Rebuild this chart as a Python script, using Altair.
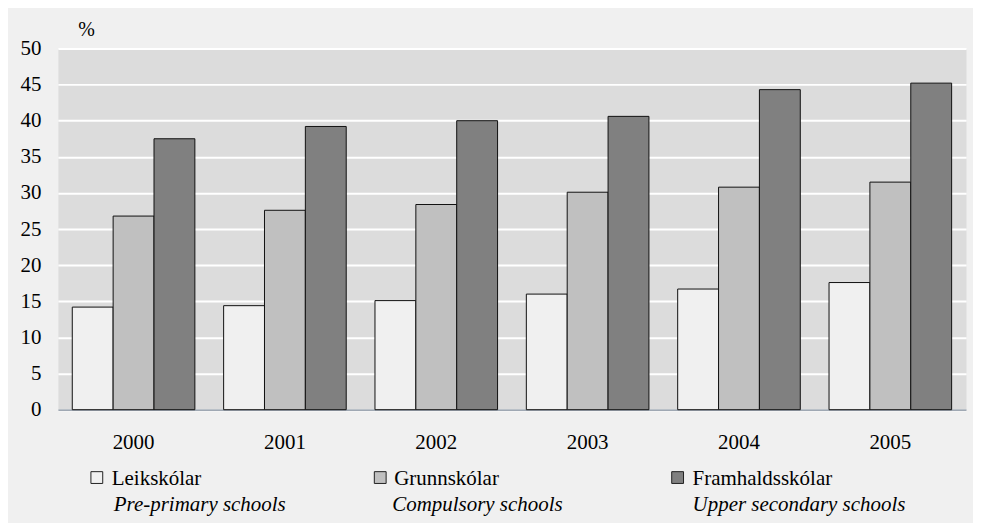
import altair as alt
import pandas as pd

years = ["2000", "2001", "2002", "2003", "2004", "2005"]
series = ["Leikskólar", "Grunnskólar", "Framhaldsskólar"]
series_en = ["Pre-primary schools", "Compulsory schools", "Upper secondary schools"]
leik = [14.2, 14.4, 15.1, 16.0, 16.7, 17.6]
grunn = [26.8, 27.6, 28.4, 30.1, 30.8, 31.5]
fram = [37.5, 39.2, 40.0, 40.6, 44.3, 45.2]
colors = ["#f0f0f0", "#c0c0c0", "#808080"]
y_ticks = list(range(0, 51, 5))

rows = []
for i, yr in enumerate(years):
    for s, vals in zip(series, [leik, grunn, fram]):
        rows.append({"year": yr, "series": s, "value": vals[i]})
df = pd.DataFrame(rows)

FONT = "Liberation Serif"
FS = 21
W, H = 910, 362

bars = alt.Chart(df).mark_bar(stroke="#111111", strokeWidth=1).encode(
    x=alt.X("year:N", sort=years,
            scale=alt.Scale(paddingInner=0.19, paddingOuter=0.095),
            axis=alt.Axis(title=None, labelAngle=0, ticks=False, grid=False,
                          domainColor="#7f8b9a", domainWidth=1.2,
                          labelPadding=39, labelBaseline="alphabetic",
                          labelFont=FONT, labelFontSize=FS, labelColor="#000")),
    xOffset=alt.XOffset("series:N", sort=series,
                        scale=alt.Scale(paddingInner=0, paddingOuter=0)),
    y=alt.Y("value:Q", scale=alt.Scale(domain=[0, 50], nice=False),
            axis=alt.Axis(values=y_ticks, title="%", titleAngle=0, titleAlign="left",
                          titleX=20, titleY=-13, titleBaseline="alphabetic",
                          titleFont=FONT, titleFontSize=20, titleFontWeight="normal",
                          titleColor="#000",
                          domain=False, ticks=False, labelPadding=17,
                          labelFont=FONT, labelFontSize=FS, labelColor="#000",
                          grid=True, gridColor="#ffffff", gridWidth=2)),
    fill=alt.Fill("series:N", scale=alt.Scale(domain=series, range=colors), legend=None),
)

# manual legend (layout constants, relative to plot area)
LEG_SYM_X = [39, 323, 621]
LEG_TXT_X = [54, 337, 636]
LEG_EN_X = [56, 335, 636]
LEG_SYM_Y = 430
LEG_TXT_Y = 437
LEG_EN_Y = 464

layers = [bars]
for i in range(len(series)):
    d = pd.DataFrame({"name": [series[i]], "en": [series_en[i]]})
    base = alt.Chart(d)
    layers.append(base.mark_square(size=140, fill=colors[i], stroke="#222222",
                                   strokeWidth=1, opacity=1, clip=False).encode(
        x=alt.value(LEG_SYM_X[i]), y=alt.value(LEG_SYM_Y)))
    layers.append(base.mark_text(align="left", baseline="alphabetic", font=FONT,
                                 fontSize=FS, color="#000").encode(
        x=alt.value(LEG_TXT_X[i]), y=alt.value(LEG_TXT_Y), text="name:N"))
    layers.append(base.mark_text(align="left", baseline="alphabetic", font=FONT,
                                 fontSize=FS, fontStyle="italic", color="#000").encode(
        x=alt.value(LEG_EN_X[i]), y=alt.value(LEG_EN_Y), text="en:N"))

chart = alt.layer(*layers).properties(
    width=W, height=H,
    autosize=alt.AutoSizeParams(type="none"),
    padding={"left": 50, "top": 40, "right": 7, "bottom": 113},
    background="#f0f0f0",
).configure_view(fill="#dcdcdc", stroke="transparent")

chart.save("out.html", embed_options={"renderer": "svg", "actions": False})
